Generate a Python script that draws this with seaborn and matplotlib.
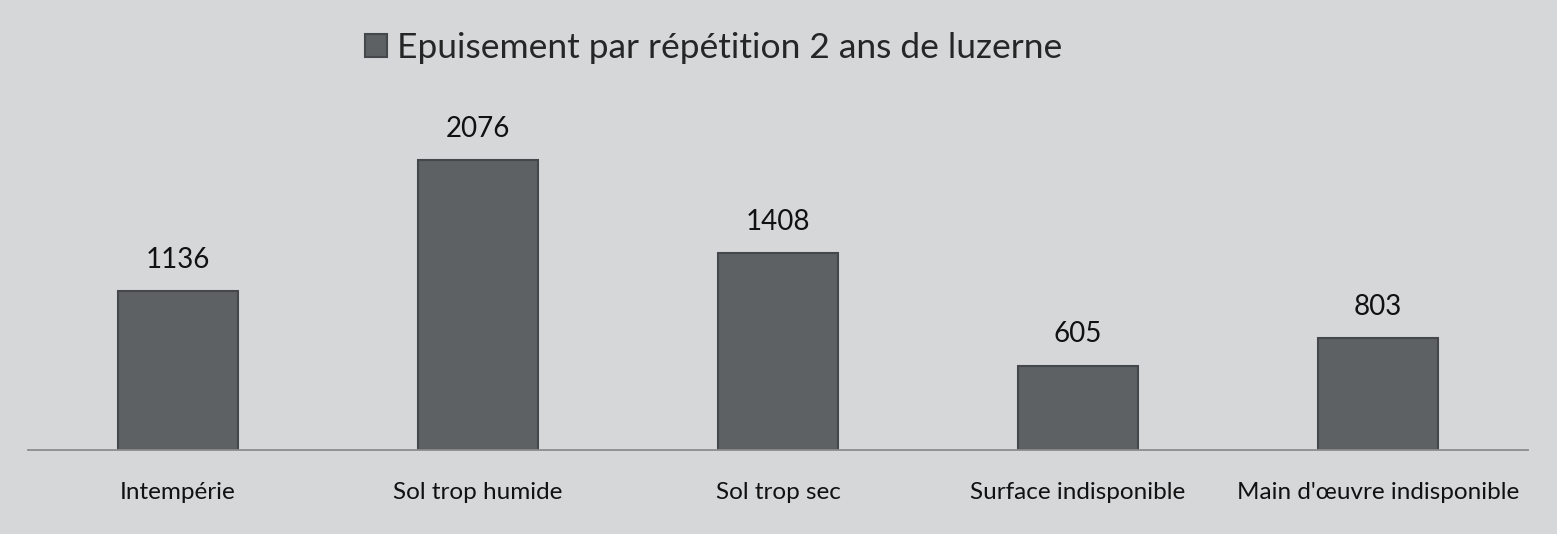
import matplotlib
matplotlib.use("Agg")
import matplotlib.pyplot as plt
import pandas as pd
import seaborn as sns

categories = [
    "Intempérie",
    "Sol trop humide",
    "Sol trop sec",
    "Surface indisponible",
    "Main d'œuvre indisponible",
]
values = [1136, 2076, 1408, 605, 803]
series_name = "Epuisement par répétition 2 ans de luzerne"

bg = "#d6d7d9"
bar_color = "#5d6165"

sns.set_theme(style="white")
plt.rcParams["font.family"] = ["Lato", "DejaVu Sans"]

df = pd.DataFrame({"cat": categories, "val": values, "serie": series_name})

fig = plt.figure(figsize=(15.57, 5.34), dpi=100)
fig.patch.set_facecolor(bg)
ax = fig.add_axes([28 / 1557, 84 / 534, 1500 / 1557, 349 / 534])
ax.set_facecolor(bg)

sns.barplot(
    data=df, x="cat", y="val", hue="serie", palette=[bar_color],
    width=0.4, edgecolor="#44474b", linewidth=1.5, ax=ax,
)

for container in ax.containers:
    ax.bar_label(container, fmt="%d", padding=13, fontsize=20, color="#111111")

ax.set_ylim(0, 2500)
ax.set_xlim(-0.5, 4.5)
ax.set_xlabel("")
ax.set_ylabel("")
ax.set_yticks([])
ax.tick_params(axis="x", length=0, pad=23, labelsize=17.5, labelcolor="#111111")
for side in ["top", "left", "right"]:
    ax.spines[side].set_visible(False)
ax.spines["bottom"].set_color("#8c8c8c")
ax.spines["bottom"].set_linewidth(1.3)

# legend sits a bit left of centre, like the original
leg = ax.legend(
    loc="center", bbox_to_anchor=(714 / 1557, 1 - 48 / 534), bbox_transform=fig.transFigure,
    frameon=False, fontsize=25.5, handlelength=0.6, handleheight=0.6,
    handletextpad=0.3,
)

fig.savefig("out.png", dpi=100, facecolor=bg)
